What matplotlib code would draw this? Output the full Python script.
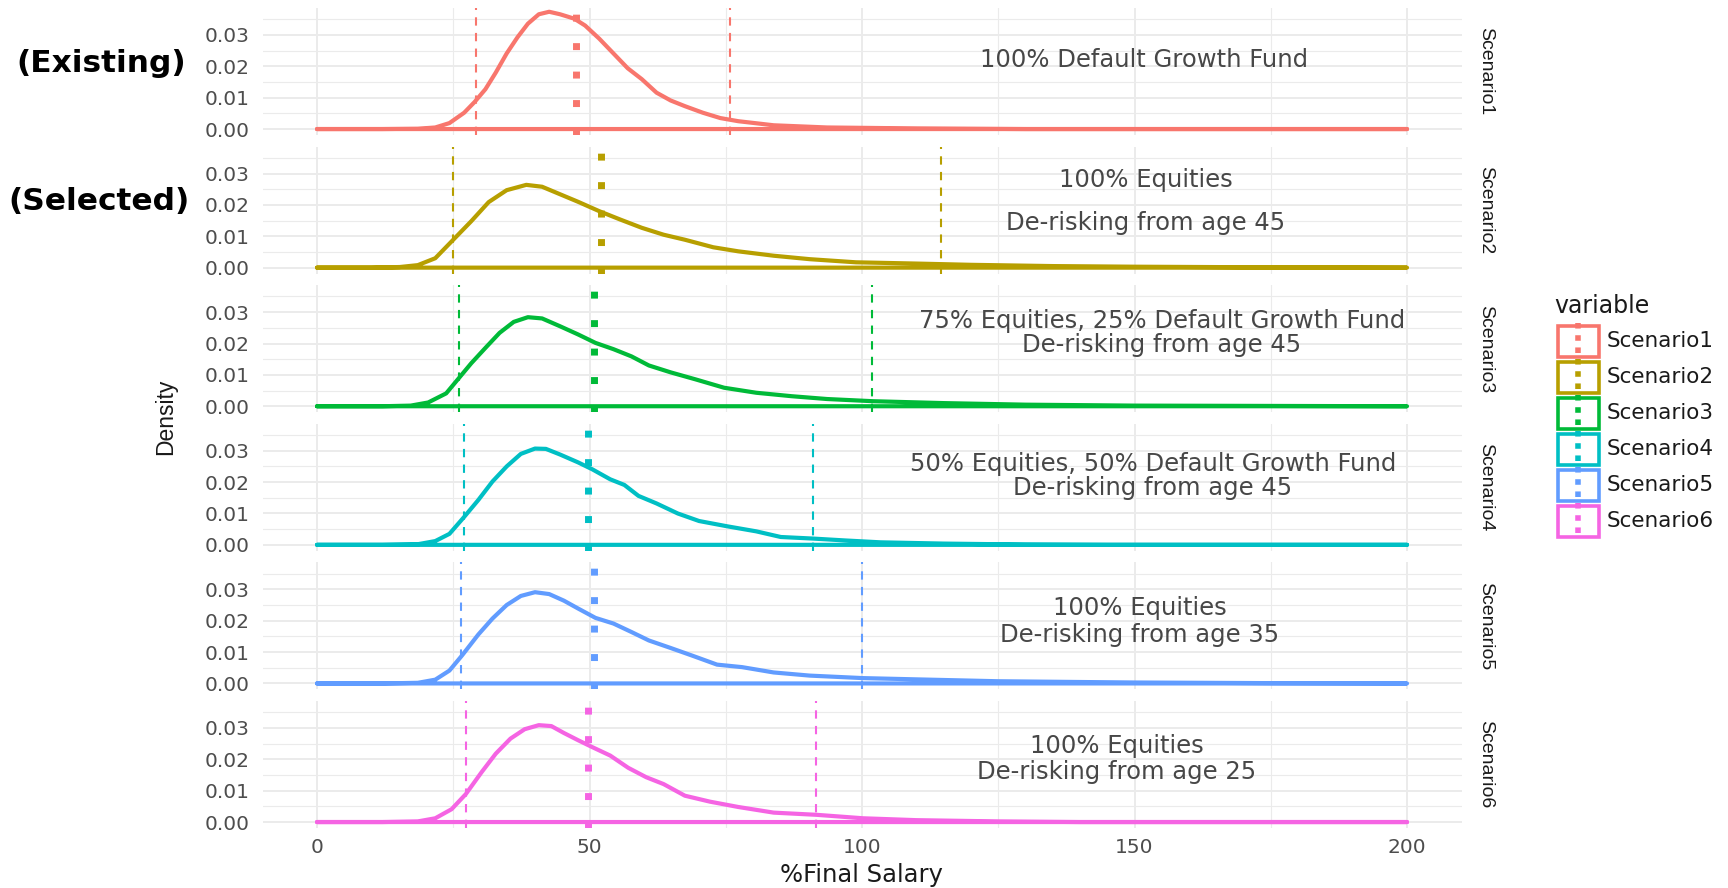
import matplotlib
matplotlib.use("Agg")
import matplotlib.pyplot as plt
from matplotlib.patches import Rectangle
from matplotlib.lines import Line2D

# ---------------- data ----------------
scenarios = ["Scenario1", "Scenario2", "Scenario3", "Scenario4", "Scenario5", "Scenario6"]
colors = ["#F8766D", "#B79F00", "#00BA38", "#00BFC4", "#619CFF", "#F564E3"]

s1_x = [0, 12, 18.5, 21.7, 24.3, 27.0, 28.9, 30.9, 32.8, 34.8, 36.8, 38.7, 40.7, 42.6, 44.6, 47.2, 49.2, 51.8,
        54.4, 57.0, 59.6, 62.3, 64.9, 67.5, 70.8, 74.0, 77.3, 83.8, 93.6, 110, 130, 200]
s1_y = [0, 0, 0.0001, 0.0005, 0.0019, 0.0052, 0.0086, 0.0127, 0.018, 0.0241, 0.0293, 0.0336, 0.0366, 0.0374,
        0.0366, 0.0352, 0.033, 0.0288, 0.0241, 0.0194, 0.0159, 0.0116, 0.0091, 0.0073, 0.0052, 0.0035, 0.0025,
        0.0012, 0.0005, 0.0002, 0, 0]

s2_x = [0, 10, 15.2, 18.5, 21.7, 25.0, 28.3, 31.5, 34.8, 38.4, 41.3, 44.6, 47.9, 51.8, 55.7, 59.6, 63.6, 67.5,
        72.7, 77.3, 83.8, 90.4, 98.9, 110, 120, 135, 150, 175, 200]
s2_y = [0, 0, 0.0002, 0.0008, 0.003, 0.0089, 0.0148, 0.0209, 0.0247, 0.0264, 0.0258, 0.0234, 0.021, 0.018,
        0.0153, 0.0127, 0.0105, 0.0089, 0.0065, 0.0052, 0.0038, 0.0027, 0.0017, 0.0013, 0.0009, 0.0005, 0.0003,
        0.0001, 0]

s3_x = [0, 12, 17.2, 20.4, 23.7, 26.0, 28.3, 30.9, 33.5, 36.1, 38.7, 41.3, 44.6, 47.9, 51.1, 54.4, 57.7, 60.9,
        64.9, 69.4, 74.7, 80.6, 87.1, 93.6, 102.1, 115, 130, 150, 175, 200]
s3_y = [0, 0, 0.0002, 0.0012, 0.0041, 0.0089, 0.0137, 0.0186, 0.0234, 0.0269, 0.0284, 0.028, 0.0255, 0.0229,
        0.0202, 0.0182, 0.0159, 0.013, 0.0108, 0.0086, 0.0059, 0.0043, 0.0032, 0.0023, 0.0016, 0.001, 0.0005,
        0.0002, 0.0001, 0]

s4_x = [0, 12, 18.5, 21.7, 24.3, 27.0, 29.6, 32.2, 34.8, 37.4, 40.0, 42.0, 44.6, 47.9, 50.5, 53.8, 56.4, 59.0,
        62.3, 66.2, 70.1, 75.3, 80.6, 85.1, 91.0, 96.9, 103.4, 115, 130, 145, 200]
s4_y = [0, 0, 0.0002, 0.0012, 0.0035, 0.0089, 0.0143, 0.0202, 0.025, 0.029, 0.0307, 0.0306, 0.0288, 0.0263,
        0.0241, 0.0209, 0.0191, 0.0156, 0.0132, 0.01, 0.0076, 0.0059, 0.0043, 0.0025, 0.002, 0.0014, 0.0008,
        0.0004, 0.0001, 0, 0]

s5_x = [0, 12, 18.5, 21.7, 24.3, 26.6, 29.6, 32.2, 34.8, 37.4, 40.0, 42.6, 45.3, 47.9, 51.1, 54.4, 57.7, 60.9,
        64.9, 68.8, 73.4, 78.0, 83.8, 90.4, 100.2, 110, 125, 150, 175, 200]
s5_y = [0, 0, 0.0002, 0.0012, 0.0041, 0.0089, 0.0156, 0.0207, 0.025, 0.0279, 0.0291, 0.0285, 0.0264, 0.0239,
        0.0209, 0.0191, 0.0164, 0.0137, 0.0113, 0.0089, 0.006, 0.0052, 0.0035, 0.0025, 0.0017, 0.0013, 0.0007,
        0.0003, 0.0001, 0]

s6_x = [0, 12, 18.5, 21.7, 24.7, 27.3, 30.2, 32.8, 35.5, 38.1, 40.7, 43.0, 45.3, 47.9, 50.5, 53.8, 57.1, 60.4,
        63.6, 67.5, 72.1, 77.3, 83.8, 91.7, 100.2, 110, 125, 140, 200]
s6_y = [0, 0, 0.0002, 0.0012, 0.0041, 0.0089, 0.0159, 0.0218, 0.0266, 0.0296, 0.0309, 0.0306, 0.0284, 0.0261,
        0.0239, 0.0212, 0.0173, 0.0143, 0.0121, 0.0084, 0.0065, 0.0048, 0.003, 0.0023, 0.0012, 0.0006, 0.0002,
        0, 0]

lower_q = [29.1, 24.9, 26.0, 27.0, 26.5, 27.3]
median_v = [47.5, 52.2, 50.8, 49.8, 50.8, 49.8]
upper_q = [75.7, 114.5, 101.9, 91.1, 100.0, 91.5]

annot_line1 = ["100% Default Growth Fund", "100% Equities", "75% Equities, 25% Default Growth Fund",
               "50% Equities, 50% Default Growth Fund", "100% Equities", "100% Equities"]
annot_line2 = ["", "De-risking from age 45", "De-risking from age 45",
               "De-risking from age 45", "De-risking from age 35", "De-risking from age 25"]

x_ticks = [0, 50, 100, 150, 200]
y_ticks = [0.00, 0.01, 0.02, 0.03]
y_tick_labels = ["0.00", "0.01", "0.02", "0.03"]

xs = [s1_x, s2_x, s3_x, s4_x, s5_x, s6_x]
ys = [s1_y, s2_y, s3_y, s4_y, s5_y, s6_y]

# ---------------- style ----------------
plt.rcParams["font.family"] = ["DejaVu Sans"]
narrow = ["Liberation Sans", "DejaVu Sans"]

W, H = 1728, 888
fig = plt.figure(figsize=(W / 100, H / 100), dpi=100)
fig.patch.set_facecolor("white")


def rect(left, top, w, h):
    return [left / W, 1 - (top + h) / H, w / W, h / H]


panel_left, panel_w = 262.5, 1199
panel_top0, panel_step, panel_h = 8, 138.6, 127
grid_c = "#EBEBEB"
tick_c = "#4D4D4D"

axes = []
for i in range(6):
    ax = fig.add_axes(rect(panel_left, panel_top0 + i * panel_step, panel_w, panel_h))
    axes.append(ax)
    ax.set_xlim(-10, 210)
    ax.set_ylim(-0.0019, 0.0386)
    for s in ax.spines.values():
        s.set_visible(False)
    ax.set_xticks(x_ticks)
    ax.set_xticks([25, 75, 125, 175], minor=True)
    ax.set_yticks(y_ticks)
    ax.set_yticks([0.005, 0.015, 0.025, 0.035], minor=True)
    ax.set_yticklabels(y_tick_labels)
    ax.grid(which="major", color=grid_c, lw=1.4)
    ax.grid(which="minor", color=grid_c, lw=0.8)
    ax.set_axisbelow(True)
    ax.tick_params(which="both", length=0, labelsize=14.5, labelcolor=tick_c, pad=9.5)
    if i < 5:
        ax.tick_params(axis="x", labelbottom=False)
    else:
        ax.tick_params(axis="x", pad=7)
    c = colors[i]
    ax.fill_between(xs[i], ys[i], facecolor="none", edgecolor=c, lw=3.0, joinstyle="round", zorder=3)
    ax.axvline(lower_q[i], color=c, lw=1.5, ls=(0, (4.0, 3.5)), zorder=2)
    ax.axvline(upper_q[i], color=c, lw=1.5, ls=(0, (4.0, 3.5)), zorder=2)
    ax.axvline(median_v[i], color=c, lw=5, ls=(0, (1, 3.1)), zorder=2, dash_capstyle="butt")
    # strip label
    ax.text(1.0202, 0.5, scenarios[i], transform=ax.transAxes, rotation=-90, ha="center", va="center",
            fontsize=14, color="#1A1A1A", family=narrow)

# annotations
ann_pos1 = [(151.7, 0.0221), (152, 0.0279), (155, 0.0272), (153.4, 0.0258), (151, 0.0240), (146.7, 0.0242)]
ann_pos2 = [None, (152, 0.0143), (155, 0.0194), (153.4, 0.0182), (151, 0.0155), (146.7, 0.0161)]
for i in range(6):
    x, y = ann_pos1[i]
    axes[i].text(x, y, annot_line1[i], ha="center", va="center", fontsize=17.5, color="#474747", zorder=5)
    if annot_line2[i]:
        x, y = ann_pos2[i]
        axes[i].text(x, y, annot_line2[i], ha="center", va="center", fontsize=17.5, color="#474747", zorder=5)

# axis labels
fig.text(862 / W, 1 - 875 / H, "%Final Salary", ha="center", va="center", fontsize=17.5, color="#1A1A1A")
fig.text(166 / W, 1 - 417 / H, "Density", ha="center", va="center", rotation=90, fontsize=16.5,
         color="#1A1A1A", family=narrow)

# left labels
fig.text(101 / W, 1 - 63 / H, "(Existing)", ha="center", va="center", fontsize=22.5, fontweight="bold",
         color="black")
fig.text(99 / W, 1 - 202 / H, "(Selected)", ha="center", va="center", fontsize=22.5, fontweight="bold",
         color="black")

# legend
lax = fig.add_axes([0, 0, 1, 1])
lax.set_xlim(0, W)
lax.set_ylim(H, 0)
lax.axis("off")
lax.text(1554, 306, "variable", ha="left", va="center", fontsize=17, color="#1A1A1A")
key_step = 36
for i in range(6):
    yc = 341 + i * key_step
    lax.add_patch(Rectangle((1557.5, yc - 15.5), 41, 31, facecolor="white", edgecolor=colors[i], lw=2.6))
    lax.add_line(Line2D([1578, 1578], [yc - 18, yc + 18], color=colors[i], lw=4.0, ls=(0, (1.0, 1.2))))
    lax.text(1607, yc, scenarios[i], ha="left", va="center", fontsize=15.5, color="#1A1A1A")

fig.savefig("out.png", dpi=100)
